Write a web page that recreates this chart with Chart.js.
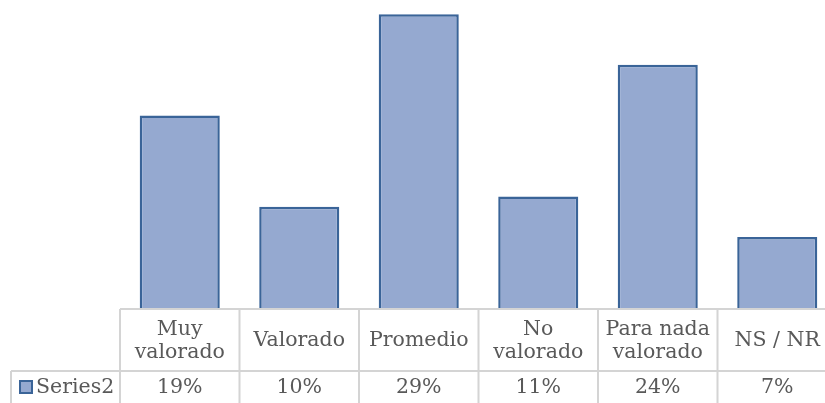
<!DOCTYPE html>
<html>
<head>
<meta charset="utf-8">
<script src="https://cdn.jsdelivr.net/npm/chart.js@4/dist/chart.umd.min.js"></script>
<style>
  html, body { margin: 0; padding: 0; background: #fff; overflow: hidden; }
  #wrap { width: 837px; height: 403px; position: relative; }
</style>
</head>
<body>
<div id="wrap"><canvas id="myChart"></canvas></div>
<script>
// data
const categories = [["Muy", "valorado"], ["Valorado"], ["Promedio"], ["No", "valorado"], ["Para nada", "valorado"], ["NS / NR"]];
const seriesName = "Series2";
const values = [19, 10, 29, 11, 24, 7];
const valueLabels = ["19%", "10%", "29%", "11%", "24%", "7%"];

const FILL = "#95a9d0";
const EDGE = "#3a6498";
const GRID = "#d4d4d4";
const TEXT = "#595959";
const FONT = "20.5px 'DejaVu Serif'";

// data table under the bars, placed from the x scale
const dataTable = {
  id: "dataTable",
  afterDraw(chart) {
    const ctx = chart.ctx;
    const x = chart.scales.x;
    const area = chart.chartArea;
    const n = categories.length;
    const step = (x.getPixelForValue(1) - x.getPixelForValue(0));
    const left = x.getPixelForValue(0) - step / 2;
    const right = x.getPixelForValue(n - 1) + step / 2;
    const top = area.bottom + 1;
    const mid = top + 62;
    const bottom = chart.height;
    const labelLeft = 11;

    ctx.save();
    ctx.strokeStyle = GRID;
    ctx.lineWidth = 2;
    ctx.beginPath();
    ctx.moveTo(left, top); ctx.lineTo(right, top);
    ctx.moveTo(labelLeft, mid); ctx.lineTo(right, mid);
    ctx.moveTo(labelLeft, mid); ctx.lineTo(labelLeft, bottom);
    for (let i = 0; i <= n; i++) {
      const px = left + i * step;
      ctx.moveTo(px, top); ctx.lineTo(px, bottom);
    }
    ctx.stroke();

    ctx.fillStyle = TEXT;
    ctx.font = FONT;
    ctx.textAlign = "center";
    ctx.textBaseline = "middle";
    const lh = 23;
    categories.forEach((lines, i) => {
      const cx = x.getPixelForValue(i);
      const cy = (top + mid) / 2 + 1;
      lines.forEach((t, j) => {
        ctx.fillText(t, cx, cy + (j - (lines.length - 1) / 2) * lh);
      });
      ctx.fillText(valueLabels[i], cx, mid + 17);
    });

    // legend key + series name
    ctx.fillStyle = FILL;
    ctx.strokeStyle = EDGE;
    ctx.lineWidth = 2;
    ctx.fillRect(20, 381, 12, 12);
    ctx.strokeRect(20, 381, 12, 12);
    ctx.fillStyle = TEXT;
    ctx.textAlign = "left";
    ctx.fillText(seriesName, 36, mid + 17);
    ctx.restore();
  }
};

new Chart(document.getElementById("myChart"), {
  type: "bar",
  data: {
    labels: categories,
    datasets: [{
      label: seriesName,
      data: values,
      backgroundColor: FILL,
      borderColor: EDGE,
      borderWidth: 2.5,
      categoryPercentage: 1,
      barPercentage: 0.67
    }]
  },
  options: {
    responsive: true,
    maintainAspectRatio: false,
    animation: false,
    layout: { padding: { left: 120, right: 0, top: 0, bottom: 95 } },
    plugins: { legend: { display: false }, tooltip: { enabled: false } },
    scales: {
      x: { display: false },
      y: { display: false, min: 0, max: 30.4 }
    }
  },
  plugins: [dataTable]
});
</script>
</body>
</html>
